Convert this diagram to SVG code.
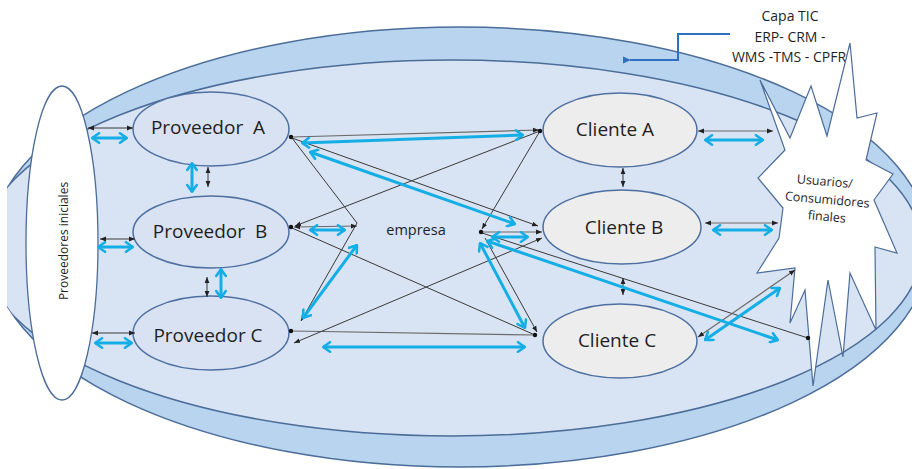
<svg xmlns="http://www.w3.org/2000/svg" width="912" height="469" viewBox="0 0 912 469">
<defs>
<style>
.ring{stroke:#4c6d99;stroke-width:1.5}
.node{stroke:#4e70a0;stroke-width:1.5}
.prov{fill:#d8e2f2}
.cli{fill:#ededed}
.lbl{font-family:"Open Sans","Liberation Sans",sans-serif;fill:#1f1f1f;text-anchor:middle}
.k{stroke:#3a3a3a;stroke-width:1;fill:none}
.g{stroke:#6a6a6a;stroke-width:1.2;fill:none}
.c{stroke:#14aee6;stroke-width:3;fill:none;marker-start:url(#cy);marker-end:url(#cy)}
.kk{marker-start:url(#bk);marker-end:url(#bk)}
.ke{marker-end:url(#bk)}
.dot{fill:#111}
</style>
<marker id="cy" viewBox="0 0 10 12" refX="9" refY="6" markerWidth="10" markerHeight="12" markerUnits="userSpaceOnUse" orient="auto-start-reverse">
<path d="M2,1.2 L8.8,6 L2,10.8" fill="none" stroke="#14aee6" stroke-width="2.6" stroke-linecap="round" stroke-linejoin="round"/>
</marker>
<marker id="bk" viewBox="0 0 6 6" refX="6" refY="3" markerWidth="6" markerHeight="6" markerUnits="userSpaceOnUse" orient="auto-start-reverse">
<path d="M0,0.6 L6,3 L0,5.4z" fill="#222"/>
</marker>
<marker id="bl" viewBox="0 0 8 8" refX="1" refY="4" markerWidth="8" markerHeight="8" markerUnits="userSpaceOnUse" orient="auto">
<path d="M8,0.5 L0,4 L8,7.5z" fill="#2f6fc0"/>
</marker>
<clipPath id="cut"><rect x="7" y="0" width="905" height="469"/></clipPath>
<clipPath id="outerClip"><ellipse cx="460" cy="247" rx="470" ry="220"/></clipPath>
</defs>
<rect width="912" height="469" fill="#ffffff"/>

<g id="capa-tic" clip-path="url(#cut)">
<ellipse class="ring" cx="460" cy="247" rx="470" ry="220" fill="#b8d4ee"/>
<ellipse class="ring" cx="452" cy="248" rx="470" ry="188" fill="#d8e3f3" clip-path="url(#outerClip)"/>
</g>

<g id="capa-tic-label">
<text class="lbl" x="790" y="21" font-size="14">Capa TIC</text>
<text class="lbl" x="790" y="42" font-size="14">ERP- CRM -</text>
<text class="lbl" x="789" y="62" font-size="14">WMS -TMS - CPFR</text>
<polyline points="730,34 678,34 678,60 630,60" fill="none" stroke="#2f6fc0" stroke-width="2" marker-end="url(#bl)"/>
</g>

<g id="usuarios">
<polygon points="760,80 790,138 811,86 827,136 850,43 857,118 877,113 866,160 893,174 874,200 897,253 875,247 876,330 850,273 843,357 828,280 813,386 805,290 790,323 795,268 757,273 779,238 783,208 758,178 785,150" fill="#ffffff" stroke="#4c6d99" stroke-width="1.2" stroke-linejoin="miter"/>
<g transform="rotate(5 827 203)">
<text class="lbl" x="823" y="186" font-size="12.5">Usuarios/</text>
<text class="lbl" x="827" y="204" font-size="12.5">Consumidores</text>
<text class="lbl" x="828" y="221" font-size="12.5">finales</text>
</g>
</g>

<g id="proveedores-iniciales">
<ellipse cx="62" cy="243" rx="36" ry="157" fill="#ffffff" stroke="#4c6d99" stroke-width="1.3"/>
<text class="lbl" font-size="12" transform="translate(68 241) rotate(-90)">Proveedores iniciales</text>
</g>

<g id="proveedor-a">
<ellipse class="node prov" cx="211" cy="129" rx="78" ry="37"/>
<text class="lbl" x="208" y="134" font-size="19" xml:space="preserve">Proveedor  A</text>
</g>
<g id="proveedor-b">
<ellipse class="node prov" cx="211" cy="232" rx="78" ry="36"/>
<text class="lbl" x="210" y="238" font-size="19" xml:space="preserve">Proveedor  B</text>
</g>
<g id="proveedor-c">
<ellipse class="node prov" cx="211" cy="333" rx="78" ry="37"/>
<text class="lbl" x="208" y="342" font-size="19">Proveedor C</text>
</g>

<g id="empresa">
<text class="lbl" x="416" y="235" font-size="14.5">empresa</text>
</g>

<g id="cliente-a">
<ellipse class="node cli" cx="620" cy="130" rx="77" ry="37"/>
<text class="lbl" x="615" y="136" font-size="19">Cliente A</text>
</g>
<g id="cliente-b">
<ellipse class="node cli" cx="622" cy="227" rx="79" ry="37"/>
<text class="lbl" x="624" y="234" font-size="19">Cliente B</text>
</g>
<g id="cliente-c">
<ellipse class="node cli" cx="620" cy="341" rx="77" ry="37"/>
<text class="lbl" x="617" y="347" font-size="19">Cliente C</text>
</g>

<g id="connectors">
<line class="k kk" x1="88" y1="128" x2="133" y2="128"/>
<line class="k kk" x1="100" y1="239" x2="135" y2="239"/>
<line class="k kk" x1="92" y1="333" x2="135" y2="333"/>
<line class="k kk" x1="208" y1="167" x2="208" y2="187"/>
<line class="k kk" x1="207" y1="277" x2="207" y2="297"/>
<line class="c" x1="92" y1="138" x2="127" y2="138"/>
<line class="c" x1="98" y1="247" x2="133" y2="247"/>
<line class="c" x1="95" y1="343" x2="132" y2="343"/>
<line class="c" x1="192" y1="163" x2="192" y2="192"/>
<line class="c" x1="221" y1="269" x2="221" y2="298"/>

<line class="g ke" x1="292" y1="137" x2="539" y2="130"/>
<line class="k ke" x1="540" y1="131" x2="295" y2="226"/>
<line class="k ke" x1="540" y1="131" x2="482" y2="229"/>
<line class="k ke" x1="292" y1="138" x2="538" y2="226"/>
<polyline class="k ke" points="292,138 357,223 301,321"/>
<line class="g kk" x1="294" y1="227" x2="357" y2="226"/>
<line class="k" x1="292" y1="228" x2="535" y2="335"/>
<line class="g ke" x1="482" y1="232" x2="542" y2="232"/>
<line class="k ke" x1="485" y1="238" x2="537" y2="332"/>
<line class="g" x1="292" y1="331" x2="535" y2="335"/>
<line class="k kk" x1="294" y1="343" x2="542" y2="238"/>
<line class="k" x1="482" y1="233" x2="808" y2="338"/>
<line class="k kk" x1="623" y1="168" x2="623" y2="187"/>
<line class="k kk" x1="623" y1="278" x2="623" y2="295"/>

<line class="g kk" x1="698" y1="131" x2="773" y2="131"/>
<line class="g kk" x1="705" y1="223" x2="778" y2="223"/>
<line class="g kk" x1="698" y1="337" x2="795" y2="270"/>

<circle class="dot" cx="291" cy="137" r="2.2"/>
<circle class="dot" cx="291" cy="227" r="2.2"/>
<circle class="dot" cx="291" cy="331" r="2.2"/>
<circle class="dot" cx="540" cy="131" r="2.2"/>
<circle class="dot" cx="481" cy="232" r="2.2"/>
<circle class="dot" cx="535" cy="335" r="2.2"/>
<circle class="dot" cx="808" cy="338" r="2.2"/>

<line class="c" x1="302" y1="143" x2="523" y2="135"/>
<line class="c" x1="310" y1="152" x2="515" y2="224"/>
<line class="c" x1="310" y1="230" x2="345" y2="230"/>
<line class="c" x1="357" y1="245" x2="303" y2="318"/>
<line class="c" x1="492" y1="237" x2="528" y2="237"/>
<line class="c" x1="480" y1="243" x2="525" y2="328"/>
<line class="c" x1="487" y1="241" x2="778" y2="340"/>
<line class="c" x1="323" y1="347" x2="525" y2="347"/>

<line class="c" x1="705" y1="140" x2="763" y2="140"/>
<line class="c" x1="713" y1="230" x2="772" y2="230"/>
<line class="c" x1="705" y1="340" x2="780" y2="288"/>
</g>
</svg>
